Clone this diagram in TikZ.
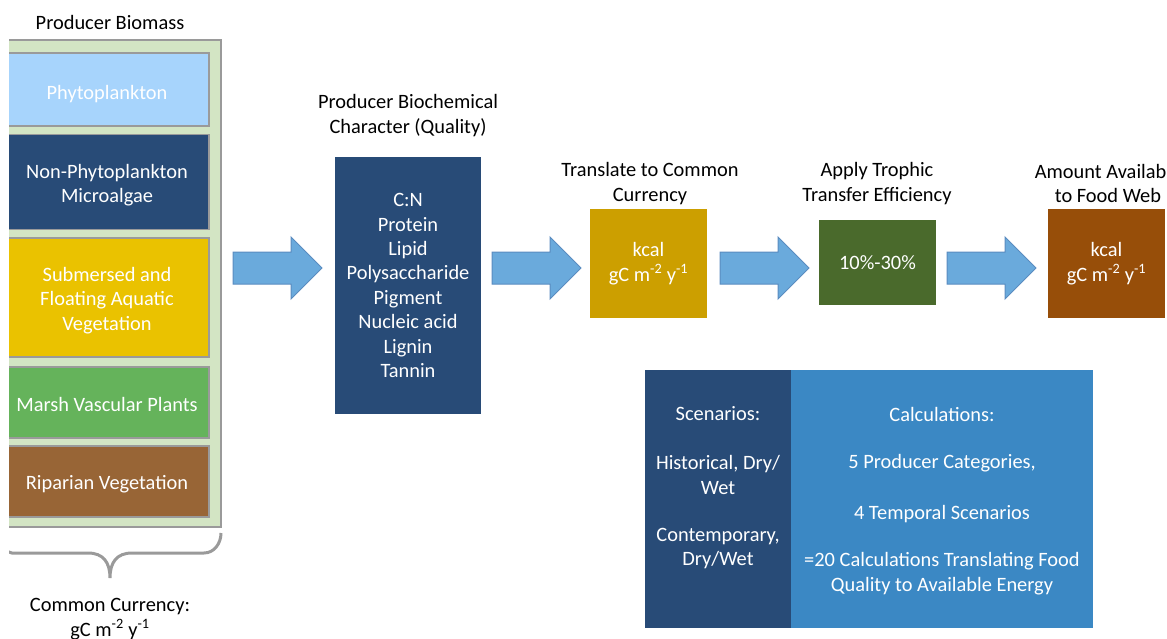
\documentclass[tikz,border=0pt]{standalone}
\usepackage{fontspec}
\setmainfont{Carlito}
\usepackage{tikz}
\usetikzlibrary{positioning}

\definecolor{outergreen}{HTML}{D3E5C4}
\definecolor{rimgray}{HTML}{9A9A9A}
\definecolor{phytoblue}{HTML}{A7D4FC}
\definecolor{navy}{HTML}{284B77}
\definecolor{aquayellow}{HTML}{EAC200}
\definecolor{marshgreen}{HTML}{65B35B}
\definecolor{ripbrown}{HTML}{986536}
\definecolor{flowblue}{HTML}{6AAADC}
\definecolor{flowrim}{HTML}{5A8CC0}
\definecolor{currgold}{HTML}{CC9F00}
\definecolor{effgreen}{HTML}{4A6A2C}
\definecolor{webbrown}{HTML}{974E09}
\definecolor{calcblue}{HTML}{3B88C4}

\tikzset{
	txt/.style={font=\fontsize{20.4}{24.4}\selectfont, align=center, inner sep=0pt},
	wtxt/.style={txt, text=white},
	producer/.style={draw=rimgray, line width=1.5pt, minimum width=204pt},
	stepbox/.style={wtxt, minimum width=117pt},
	flow/.style={fill=flowblue, draw=flowrim, line width=1pt, line join=miter},
}

\newcommand{\flowarrow}[1]{%
	\draw[flow] (#1,252) -- ++(58,0) -- ++(0,-15) -- ++(31,31) -- ++(-31,31)
		-- ++(0,-15) -- ++(-58,0) -- cycle;}

\begin{document}
\begin{tikzpicture}[x=1pt, y=-1pt]
	\useasboundingbox (0,0) rectangle (1167,639);
	\clip (0,0) rectangle (1167,639);

	% producer biomass column
	\node[txt] (biomass) at (110,22) {Producer Biomass};
	\begin{scope}
		\clip (9,0) rectangle (300,639);
		\draw[fill=outergreen, draw=rimgray, line width=1.5pt] (0,40) rectangle (221,527);
		\node[producer, fill=phytoblue, minimum height=73pt] (phyto) at (107,89.5) {};
		\node[producer, fill=navy, minimum height=95pt] (microalgae) at (107,182) {};
		\node[producer, fill=aquayellow, minimum height=119pt] (aquatic) at (107,297.5) {};
		\node[producer, fill=marshgreen, minimum height=71pt] (marsh) at (107,402.5) {};
		\node[producer, fill=ripbrown, minimum height=71pt] (riparian) at (107,481.5) {};
		\draw[rimgray, line width=3pt] (-8,533) to[out=90,in=180] (12,553) -- (88,553)
			.. controls (103,553) and (110,562) .. (110,578)
			.. controls (110,562) and (117,553) .. (132,553) -- (204,553)
			to[out=0,in=-90] (221,533);
	\end{scope}
	\node[wtxt] at ([yshift=-5pt]phyto.center) {Phytoplankton};
	\node[wtxt] at ([yshift=-3pt]microalgae.center) {Non-Phytoplankton\\Microalgae};
	\node[wtxt] at ([yshift=-3pt]aquatic.center) {Submersed and\\Floating Aquatic\\Vegetation};
	\node[wtxt] at ([yshift=-2pt]marsh.center) {Marsh Vascular Plants};
	\node[wtxt] at ([yshift=-2.5pt]riparian.center) {Riparian Vegetation};
	\node[txt] (currency) at (110,619) {Common Currency:\\gC m\textsuperscript{-2} y\textsuperscript{-1}};

	% biochemical character
	\node[txt] (quality) at (408,115.5) {Producer Biochemical\\Character (Quality)};
	\node[wtxt, fill=navy, minimum width=146pt, minimum height=257pt] (biochem) at (408,285.5)
		{C:N\\Protein\\Lipid\\Polysaccharide\\Pigment\\Nucleic acid\\Lignin\\Tannin};

	% common currency
	\node[txt] (translate) at (650,183.5) {Translate to Common\\Currency};
	\node[stepbox, fill=currgold, minimum height=109pt] (kcal) at (648.5,263.5)
		{kcal\\gC m\textsuperscript{-2} y\textsuperscript{-1}};

	% trophic transfer
	\node[txt] (trophic) at (877,183.5) {Apply Trophic\\Transfer Efficiency};
	\node[stepbox, fill=effgreen, minimum height=85pt] (efficiency) at (877.5,262.5) {10\%-30\%};

	% available to food web
	\node[txt] (available) at (1108,183.5) {Amount Available\\to Food Web};
	\node[stepbox, fill=webbrown, minimum height=109pt] (foodweb) at (1106.5,263.5)
		{kcal\\gC m\textsuperscript{-2} y\textsuperscript{-1}};

	% block arrows
	\flowarrow{233}
	\flowarrow{492}
	\flowarrow{720}
	\flowarrow{947}

	% scenarios and calculations
	\fill[navy] (645,370) rectangle (791,628);
	\fill[calcblue] (791,370) rectangle (1093,628);
	\node[wtxt] (scen) at (718,414) {Scenarios:};
	\node[wtxt] (hist) at (718,475) {Historical, Dry/\\Wet};
	\node[wtxt] (cont) at (718,548.5) {Contemporary,\\Dry/Wet};
	\node[wtxt] (calc) at (942,414) {Calculations:};
	\node[wtxt] (cats) at (942,463) {5 Producer Categories,};
	\node[wtxt] (temp) at (942,514) {4 Temporal Scenarios};
	\node[wtxt] (total) at (942,573.5) {=20 Calculations Translating Food\\Quality to Available Energy};
\end{tikzpicture}
\end{document}
